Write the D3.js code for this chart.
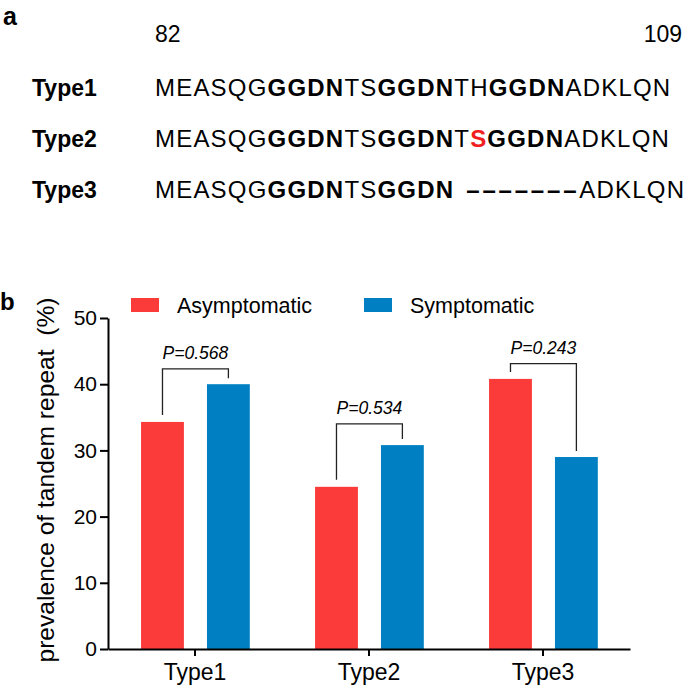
<!DOCTYPE html>
<html>
<head>
<meta charset="utf-8">
<script src="https://cdn.jsdelivr.net/npm/d3@7"></script>
<style>
  body { margin: 0; background: #fff; }
  svg { display: block; font-family: "Liberation Sans", Arial, sans-serif; }
</style>
</head>
<body>
<div id="chart"></div>
<script>
// panel a: sequence alignment
const seqTypes = ["Type1", "Type2", "Type3"];
const seqStart = "82";
const seqEnd = "109";
// each row is a list of [text, style] pieces: n = normal, b = bold, r = bold red, d = deletion dashes
const seqRows = [
    [["MEASQG", "n"], ["GGDN", "b"], ["TS", "n"], ["GGDN", "b"], ["TH", "n"], ["GGDN", "b"], ["ADKLQN", "n"]],
    [["MEASQG", "n"], ["GGDN", "b"], ["TS", "n"], ["GGDN", "b"], ["T", "n"], ["S", "r"], ["GGDN", "b"], ["ADKLQN", "n"]],
    [["MEASQG", "n"], ["GGDN", "b"], ["TS", "n"], ["GGDN", "b"], ["–––––––", "d"], ["ADKLQN", "n"]]
];

// panel b: bar chart
const categories = ["Type1", "Type2", "Type3"];
const groups = ["Asymptomatic", "Symptomatic"];
const asymptomatic = [34.3, 24.5, 40.8];
const symptomatic = [40.0, 30.8, 29.0];
const pLabels = ["P=0.568", "P=0.534", "P=0.243"];
const bracketTops = [42.3, 34.0, 43.1];
const yTicks = [0, 10, 20, 30, 40, 50];

const colors = { Asymptomatic: "#fb3a3a", Symptomatic: "#0080c2" };

const W = 685, H = 691;
const svg = d3.select("#chart").append("svg")
    .attr("width", W)
    .attr("height", H);

// ---- panel a ----
svg.append("text").attr("x", 3).attr("y", 25)
    .attr("font-size", 25).attr("font-weight", "bold").text("a");

svg.append("text").attr("x", 155).attr("y", 42)
    .attr("font-size", 23).text(seqStart);
svg.append("text").attr("x", 682).attr("y", 42)
    .attr("font-size", 23).attr("text-anchor", "end").text(seqEnd);

const rowY = d3.scalePoint().domain(seqTypes).range([96, 198]);

seqTypes.forEach((t, i) => {
    svg.append("text")
        .attr("x", 32).attr("y", rowY(t))
        .attr("font-size", 23).attr("font-weight", "bold")
        .text(t);

    const line = svg.append("text")
        .attr("x", 155).attr("y", rowY(t))
        .attr("font-size", 24)
        .attr("letter-spacing", "1.2px");

    seqRows[i].forEach(([txt, style]) => {
        const ts = line.append("tspan").text(txt);
        if (style === "b") ts.attr("font-weight", "bold");
        if (style === "r") ts.attr("font-weight", "bold").attr("fill", "#f01e1e");
        if (style === "d") ts.attr("dx", 12).attr("font-weight", "bold").attr("letter-spacing", "2.8px");
    });
});

// ---- panel b ----
const margin = { left: 108, right: 55, top: 318, bottom: 42 };
const plotW = W - margin.left - margin.right;
const plotH = H - margin.top - margin.bottom;

svg.append("text").attr("x", 0).attr("y", 310)
    .attr("font-size", 24).attr("font-weight", "bold").text("b");

const g = svg.append("g").attr("transform", `translate(${margin.left},${margin.top})`);

const x0 = d3.scaleBand().domain(categories).range([0, plotW]);
const x1 = d3.scaleBand().domain(groups)
    .range([x0.bandwidth() * 0.19, x0.bandwidth() * 0.815])
    .paddingInner(0.35);
const y = d3.scaleLinear().domain([0, 50]).range([plotH, 0]);

const rows = categories.map((c, i) => ({
    cat: c,
    vals: [
        { key: "Asymptomatic", v: asymptomatic[i] },
        { key: "Symptomatic", v: symptomatic[i] }
    ]
}));

g.selectAll("g.grp")
    .data(rows)
    .join("g")
    .attr("class", "grp")
    .attr("transform", d => `translate(${x0(d.cat)},0)`)
    .selectAll("rect")
    .data(d => d.vals)
    .join("rect")
    .attr("x", d => x1(d.key))
    .attr("width", x1.bandwidth())
    .attr("y", d => y(d.v))
    .attr("height", d => plotH - y(d.v))
    .attr("fill", d => colors[d.key]);

// significance brackets
rows.forEach((r, i) => {
    const xl = x0(r.cat) + x1("Asymptomatic") + x1.bandwidth() / 2;
    const xr = x0(r.cat) + x1("Symptomatic") + x1.bandwidth() / 2;
    const top = y(bracketTops[i]);
    g.append("path")
        .attr("d", `M${xl},${y(asymptomatic[i]) - 7}V${top}H${xr}V${y(symptomatic[i]) - 6}`)
        .attr("fill", "none")
        .attr("stroke", "#222")
        .attr("stroke-width", 1.3);
    g.append("text")
        .attr("x", (xl + xr) / 2).attr("y", top - 10)
        .attr("text-anchor", "middle")
        .attr("font-size", 17.5).attr("font-style", "italic")
        .text(pLabels[i]);
});

// axes
const xAxis = g.append("g")
    .attr("transform", `translate(0,${plotH})`)
    .call(d3.axisBottom(x0).tickSize(7).tickSizeOuter(0).tickPadding(8));
xAxis.selectAll("text").attr("font-size", 23).attr("fill", "#000")
    .attr("font-family", "Liberation Sans, Arial, sans-serif");

const yAxis = g.append("g")
    .call(d3.axisLeft(y).tickValues(yTicks).tickSize(8).tickSizeOuter(0).tickPadding(3));
yAxis.selectAll("text").attr("font-size", 21).attr("fill", "#000")
    .attr("font-family", "Liberation Sans, Arial, sans-serif");

svg.selectAll(".domain, .tick line").attr("stroke", "#000").attr("stroke-width", 2);

// y label
svg.append("text")
    .attr("transform", `translate(54,480) rotate(-90)`)
    .attr("text-anchor", "middle")
    .attr("font-size", 24)
    .attr("textLength", 365)
    .attr("lengthAdjust", "spacingAndGlyphs")
    .style("white-space", "pre")
    .text("prevalence of tandem repeat  (%)");

// legend
const legend = svg.append("g");
const legX = d3.scaleOrdinal().domain(groups).range([131, 364]);
groups.forEach(k => {
    legend.append("rect")
        .attr("x", legX(k)).attr("y", 298)
        .attr("width", 28).attr("height", 14)
        .attr("fill", colors[k]);
    legend.append("text")
        .attr("x", legX(k) + 46).attr("y", 313)
        .attr("font-size", 21.5)
        .text(k);
});
</script>
</body>
</html>
